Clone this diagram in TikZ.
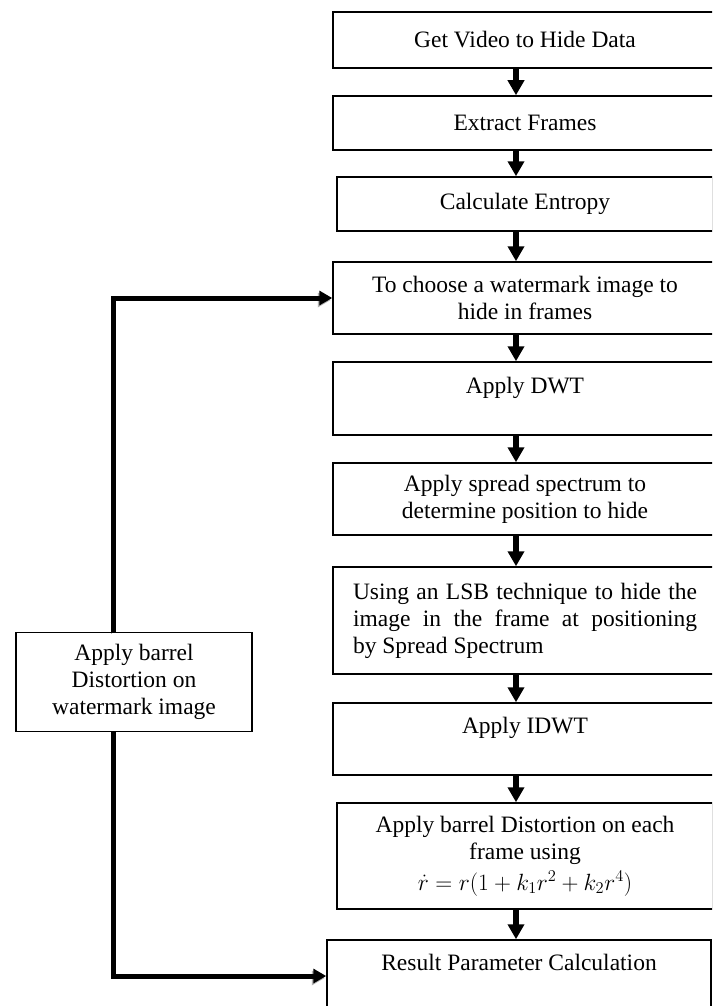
\RequirePackage{fix-cm}
\documentclass[tikz,border=0pt]{standalone}
\usepackage{fontspec}
\setmainfont{Liberation Serif}
\usetikzlibrary{arrows.meta}

\begin{document}
\begin{tikzpicture}[x=1pt,y=-1pt,
  every node/.style={draw, line width=1.5pt, align=center, inner sep=0pt, font=\fontsize{23.5}{27}\selectfont},
  flow/.style={line width=6pt, -{Triangle[width=16pt,length=15pt]}},
  back/.style={line width=5pt, -{Triangle[width=14pt,length=13pt]},
    preaction={draw=gray!60, dash pattern=on 1pt off 1pt, transform canvas={shift={(-1.5pt,-2pt)}}}}]
\useasboundingbox (0,0) rectangle (712,1006);
\clip (0,0) rectangle (712,1006);
% Boxes
\node[minimum width=384pt, minimum height=56pt] (video) at (525,40) {Get Video to Hide Data};
\node[minimum width=384pt, minimum height=54pt] (frames) at (525,123) {Extract Frames};
\node[minimum width=376pt, minimum height=54pt] (entropy) at (525,204) {Calculate Entropy};
\node[minimum width=384pt, minimum height=72pt] (choose) at (525,298) {To choose a watermark image to\\hide in frames};
\node[minimum width=384pt, minimum height=73pt] (dwt) at (525,398.5) {Apply DWT\\~};
\node[minimum width=384pt, minimum height=72pt] (spread) at (525,499) {Apply spread spectrum to\\determine position to hide};
\node[minimum width=384pt, minimum height=107pt, text width=344pt, align=justify] (lsb) at (525,620.5) {Using an LSB technique to hide the\linebreak image in the frame at positioning\linebreak by Spread Spectrum};
\node[minimum width=384pt, minimum height=72pt] (idwt) at (525,739) {Apply IDWT\\~};
\node[minimum width=376pt, minimum height=106pt] (distort) at (525,856) {Apply barrel Distortion on each\\frame using\\[4pt]$\dot{r} = r(1 + k_1 r^2 + k_2 r^4)$};
\node[minimum width=384pt, minimum height=72pt] (result) at (519,976) {Result Parameter Calculation\\~};
\node[minimum width=236pt, minimum height=99pt] (wmark) at (134,682) {Apply barrel\\Distortion on\\watermark image};

%Arrows
\coordinate (ax) at (516,0);
\coordinate (fb) at (113,0);
\draw[flow] (video.south -| ax) -- (frames.north -| ax);
\draw[flow] (frames.south -| ax) -- (entropy.north -| ax);
\draw[flow] (entropy.south -| ax) -- (choose.north -| ax);
\draw[flow] (choose.south -| ax) -- (dwt.north -| ax);
\draw[flow] (dwt.south -| ax) -- (spread.north -| ax);
\draw[flow] (spread.south -| ax) -- (lsb.north -| ax);
\draw[flow] (lsb.south -| ax) -- (idwt.north -| ax);
\draw[flow] (idwt.south -| ax) -- (distort.north -| ax);
\draw[flow] (distort.south -| ax) -- (result.north -| ax);
\draw[back] (wmark.north -| fb) |- (choose.west);
\draw[back] (wmark.south -| fb) |- (result.west);
\end{tikzpicture}
\end{document}
